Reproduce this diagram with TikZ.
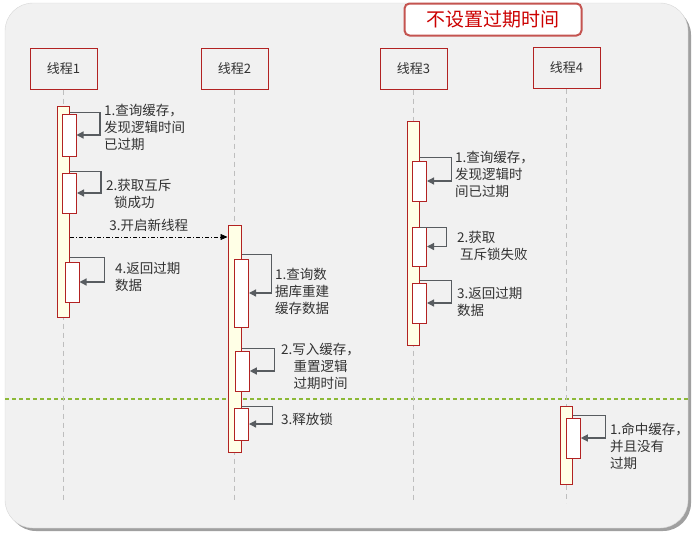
\documentclass[tikz,border=0pt]{standalone}
\usepackage{fontspec}
\setmainfont{Noto Sans CJK SC}
\usetikzlibrary{arrows.meta}

\definecolor{bgpanel}{RGB}{241,241,241}
\definecolor{panelrim}{RGB}{215,215,215}
\definecolor{panelshade}{RGB}{160,160,160}
\definecolor{boxred}{RGB}{178,34,34}
\definecolor{titlerim}{RGB}{196,84,80}
\definecolor{titlered}{RGB}{204,0,0}
\definecolor{barfill}{RGB}{255,255,230}
\definecolor{msggray}{RGB}{88,92,96}
\definecolor{lifegray}{RGB}{190,190,190}
\definecolor{splitgreen}{RGB}{140,185,55}
\definecolor{txtgray}{RGB}{50,50,50}

\tikzset{
    head/.style={draw=boxred, line width=1pt, fill=bgpanel, minimum width=67pt, minimum height=41pt,
        text=txtgray, font=\fontsize{13}{16}\selectfont},
    bar/.style={draw=boxred, line width=1pt, fill=barfill, minimum width=12pt, inner sep=0pt},
    act/.style={draw=boxred, line width=1pt, fill=white, minimum width=14pt, inner sep=0pt},
    lifeline/.style={lifegray, line width=1.2pt, dash pattern=on 5pt off 4pt},
    selfmsg/.style={msggray, line width=1.3pt, -{Triangle[length=7pt,width=7pt]}},
    call/.style={black, line width=0.7pt, dash pattern=on 4pt off 2pt on 1pt off 2pt, -{Triangle[length=7pt,width=6pt]}},
    note/.style={text=txtgray, inner sep=0pt, anchor=north west, align=left, font=\fontsize{13.5}{17}\selectfont},
}

\begin{document}
\begin{tikzpicture}[x=1pt, y=-1pt]
    \useasboundingbox (0,0) rectangle (700,538);

    % panel
    \fill[panelshade, rounded corners=28pt] (8,7) rectangle (691,531);
    \draw[panelrim, fill=bgpanel, rounded corners=28pt] (5,3) rectangle (688,528);

    % title
    \node[draw=titlerim, line width=2pt, fill=white, rounded corners=5pt, minimum width=177pt, minimum height=32pt,
        text=titlered, font=\fontsize{19}{22}\selectfont] (title) at (493,19.5) {不设置过期时间};

    % thread heads
    \node[head] (t1) at (63.5,68.5) {线程1};
    \node[head] (t2) at (234.5,68.5) {线程2};
    \node[head] (t3) at (413.5,68.5) {线程3};
    \node[head] (t4) at (566.5,68) {线程4};

    \draw[splitgreen, line width=1.1pt, dash pattern=on 4pt off 3pt] (5,399) -- (688,399); %split

    \draw[lifeline] (t1) -- (t1 |- 0,503);
    \draw[lifeline] (t2) -- (t2 |- 0,503);
    \draw[lifeline] (t3) -- (t3 |- 0,503);
    \draw[lifeline] (t4) -- (t4 |- 0,503);

    % activation bars
    \node[bar, minimum height=211pt] (a1) at (63.5,211.5) {};
    \node[bar, minimum height=227pt, minimum width=13pt] (a2) at (234.5,338.5) {};
    \node[bar, minimum height=224pt] (a3) at (413,233) {};
    \node[bar, minimum height=78pt] (a4) at (566,445) {};

    \node[act, minimum height=42pt] (b11) at (69,135) {};
    \node[act, minimum height=40pt] (b12) at (69.5,193) {};
    \node[act, minimum height=40pt] (b14) at (72,282) {};

    \node[act, minimum height=68pt] (b21) at (241.5,293) {};
    \node[act, minimum height=40pt] (b22) at (242.3,371) {};
    \node[act, minimum height=32pt] (b23) at (241.5,424) {};

    \node[act, minimum height=40pt] (b31) at (419.5,181) {};
    \node[act, minimum height=39pt] (b32) at (419.5,246.5) {};
    \node[act, minimum height=40pt] (b33) at (419.5,303) {};

    \node[act, minimum height=40pt] (b41) at (573.3,438) {};

    % thread 1
    \draw[selfmsg] ([yshift=1pt]b11.north -| a1.east) -- ++(30,0) |- (b11.east);
    \node[note] (n11) at (104,103.5) {1.查询缓存，\\发现逻辑时间\\已过期};
    \draw[selfmsg] ([yshift=1pt]b12.north -| a1.east) -- ++(31,0) |- (b12.east);
    \node[note] (n12) at (106,179) {2.获取互斥\\\hspace{8pt}锁成功};
    \draw[call] (a1.east |- 0,237) -- (a2.west |- 0,237) node[midway, above=1.5pt, text=txtgray, font=\fontsize{13.5}{17}\selectfont] {3.开启新线程};
    \draw[selfmsg] ([yshift=4pt]b14.north -| a1.east) -- ++(34.5,0) |- (b14.east);
    \node[note] (n14) at (115,261.5) {4.返回过期\\数据};

    % thread 2
    \draw[selfmsg] ([yshift=4pt]b21.north -| a2.east) -- ++(30,0) |- (b21.east);
    \node[note] (n21) at (275,268) {1.查询数\\据库重建\\缓存数据};
    \draw[selfmsg] ([yshift=2pt]b22.north -| a2.east) -- ++(33,0) |- (b22.east);
    \node[note, align=center] (n22) at (281,342.5) {2.写入缓存，\\重置逻辑\\过期时间};
    \draw[selfmsg] ([yshift=1pt]b23.north -| a2.east) -- ++(31,0) |- (b23.east);
    \node[note] (n23) at (281,412.5) {3.释放锁};

    % thread 3
    \draw[selfmsg] ([yshift=3pt]b31.north -| a3.east) -- ++(32,0) |- (b31.east);
    \node[note] (n31) at (455,151) {1.查询缓存，\\发现逻辑时\\间已过期};
    \draw[selfmsg] ([yshift=-1pt]b32.north -| a3.east) -- ++(27,0) |- (b32.east);
    \node[note] (n32) at (457,231) {2.获取\\\hspace{3pt}互斥锁失败};
    \draw[selfmsg] ([yshift=2pt]b33.north -| a3.east) -- ++(32,0) |- (b33.east);
    \node[note] (n33) at (457,287) {3.返回过期\\数据};

    % thread 4
    \draw[selfmsg] ([yshift=2pt]b41.north -| a4.east) -- ++(33,0) |- (b41.east);
    \node[note] (n41) at (610,423) {1.命中缓存，\\并且没有\\过期};
\end{tikzpicture}
\end{document}
